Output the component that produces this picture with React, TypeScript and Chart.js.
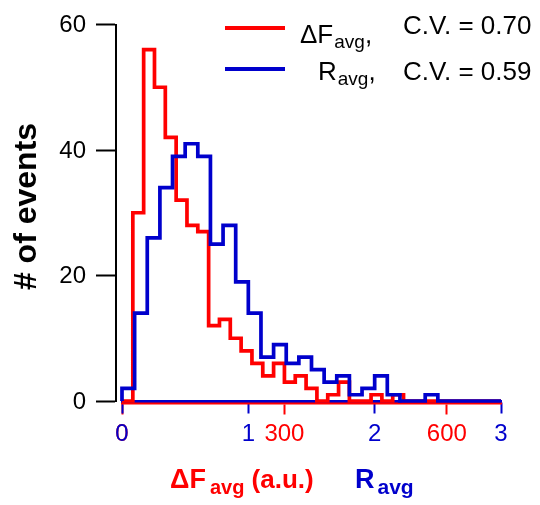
import React, { useEffect, useRef } from 'react';
import { Chart, registerables } from 'chart.js';

Chart.register(...registerables);

const RED = '#ff0000';
const BLUE = '#0000cc';
const FONT = "'Liberation Sans', Arial, Helvetica, sans-serif";

// ΔF_avg histogram: bin width 20 a.u., bins starting at 0
const RED_BIN_WIDTH = 20;
const redCounts = [
  0, 30, 56, 50, 42, 32, 28, 27, 12, 13, 10, 8, 6, 4, 6, 3, 4, 2, 0, 1, 3, 0, 0, 1, 0, 1,
  0, 0, 0, 0, 0, 0, 0, 0, 0,
];

// R_avg histogram: bin width 0.1, bins starting at 0
const BLUE_BIN_WIDTH = 0.1;
const blueCounts = [
  2, 14, 26, 34, 39, 41, 39, 25, 28, 19, 14, 7, 9, 6, 7, 5, 3, 4, 1, 2, 4, 1, 0, 0, 1,
  0, 0, 0, 0, 0,
];

const yTicks = [0, 20, 40, 60];
const blueTicks = [0, 1, 2, 3];
const redTicks = [0, 300, 600];

const legendRows = [
  { main: 'ΔF', sub: 'avg', cv: 'C.V. = 0.70', color: RED },
  { main: 'R', sub: 'avg', cv: 'C.V. = 0.59', color: BLUE },
];

function steps(counts: number[], width: number) {
  const pts: { x: number; y: number }[] = [{ x: 0, y: 0 }];
  counts.forEach((c, i) => pts.push({ x: i * width, y: c }));
  pts.push({ x: counts.length * width, y: 0 });
  return pts;
}

type Run = { text: string; size: number; dy: number; dx?: number };

function drawRuns(ctx: CanvasRenderingContext2D, x: number, y: number, runs: Run[], bold: boolean, color: string) {
  ctx.fillStyle = color;
  ctx.textAlign = 'left';
  ctx.textBaseline = 'alphabetic';
  let cx = x;
  for (const r of runs) {
    cx += r.dx || 0;
    ctx.font = `${bold ? 'bold ' : ''}${r.size}px ${FONT}`;
    ctx.fillText(r.text, cx, y + r.dy);
    cx += ctx.measureText(r.text).width;
  }
  return cx;
}

const textPlugin = {
  id: 'textDecor',
  afterDraw(chart: any) {
    const ctx: CanvasRenderingContext2D = chart.ctx;
    ctx.save();

    // y tick labels, placed from the y scale
    const ys = chart.scales.y;
    ctx.font = `24px ${FONT}`;
    ctx.fillStyle = '#000';
    ctx.textAlign = 'right';
    ctx.textBaseline = 'middle';
    yTicks.forEach((v) => {
      ctx.fillText(String(v), 86, ys.getPixelForValue(v) + 1);
    });

    // legend
    const rowY = [28, 69];
    const textX = [300, 318];
    const textBase = [43, 80];
    const cvBase = [34, 80];
    legendRows.forEach((row, i) => {
      ctx.strokeStyle = row.color;
      ctx.lineWidth = 4;
      ctx.beginPath();
      ctx.moveTo(225, rowY[i]);
      ctx.lineTo(285, rowY[i]);
      ctx.stroke();
      drawRuns(
        ctx,
        textX[i],
        textBase[i],
        [
          { text: row.main, size: 26, dy: 0 },
          { text: row.sub, size: 19, dy: 5, dx: 1 },
          { text: ',', size: 26, dy: 0 },
        ],
        false,
        '#000'
      );
      ctx.font = `26px ${FONT}`;
      ctx.fillStyle = '#000';
      ctx.textAlign = 'left';
      ctx.textBaseline = 'alphabetic';
      ctx.fillText(row.cv, 403, cvBase[i]);
    });

    // x axis titles
    drawRuns(
      ctx,
      170,
      488,
      [
        { text: 'ΔF', size: 27, dy: 0 },
        { text: 'avg', size: 20, dy: 6, dx: 4 },
        { text: ' (a.u.)', size: 26, dy: 0 },
      ],
      true,
      RED
    );
    drawRuns(
      ctx,
      355,
      488,
      [
        { text: 'R', size: 27, dy: 0 },
        { text: 'avg', size: 21, dy: 6, dx: 3 },
      ],
      true,
      BLUE
    );

    // y axis title
    ctx.save();
    ctx.translate(36, 206.5);
    ctx.rotate(-Math.PI / 2);
    ctx.font = `bold 32px ${FONT}`;
    ctx.fillStyle = '#000';
    ctx.textAlign = 'center';
    ctx.textBaseline = 'alphabetic';
    ctx.fillText('# of events', 0, 0);
    ctx.restore();

    ctx.restore();
  },
};

export default function App() {
  const ref = useRef<HTMLCanvasElement>(null);
  useEffect(() => {
    const chart = new Chart(ref.current as HTMLCanvasElement, {
      type: 'line',
      data: {
        datasets: [
          {
            label: 'R_avg',
            data: steps(blueCounts, BLUE_BIN_WIDTH),
            xAxisID: 'x',
            yAxisID: 'y',
            borderColor: BLUE,
            borderWidth: 3.7,
            pointRadius: 0,
            stepped: 'before',
            fill: false,
            clip: false,
            order: 0,
          } as any,
          {
            label: 'ΔF_avg',
            data: steps(redCounts, RED_BIN_WIDTH),
            xAxisID: 'xr',
            yAxisID: 'y',
            borderColor: RED,
            borderWidth: 3.7,
            pointRadius: 0,
            stepped: 'before',
            fill: false,
            clip: false,
            order: 1,
          } as any,
        ],
      },
      options: {
        responsive: false,
        animation: false,
        devicePixelRatio: 1,
        layout: { padding: { left: 122, right: 39, top: 24.5, bottom: 104 } },
        plugins: { legend: { display: false }, tooltip: { enabled: false }, title: { display: false } },
        scales: {
          xr: {
            type: 'linear',
            axis: 'x',
            min: 0,
            max: 700,
            position: { y: -0.35 },
            afterBuildTicks: (s: any) => {
              s.ticks = redTicks.map((v) => ({ value: v }));
            },
            ticks: {
              color: RED,
              font: { family: FONT, size: 24 },
              padding: 7,
              autoSkip: false,
              maxRotation: 0,
            },
            grid: { drawOnChartArea: false, drawTicks: true, tickLength: 10, tickWidth: 2, tickColor: RED },
            border: { display: true, color: RED, width: 2.5 },
          },
          x: {
            type: 'linear',
            min: 0,
            max: 3,
            position: { y: 0 },
            afterBuildTicks: (s: any) => {
              s.ticks = blueTicks.map((v) => ({ value: v }));
            },
            ticks: {
              color: BLUE,
              font: { family: FONT, size: 24 },
              padding: 8,
              autoSkip: false,
              maxRotation: 0,
            },
            grid: { drawOnChartArea: false, drawTicks: true, tickLength: 11, tickWidth: 2, tickColor: BLUE },
            border: { display: true, color: BLUE, width: 2.5 },
          },
          y: {
            type: 'linear',
            min: 0,
            max: 60,
            position: { x: -0.0475 },
            afterBuildTicks: (s: any) => {
              s.ticks = yTicks.map((v) => ({ value: v }));
            },
            ticks: { display: false },
            grid: { drawOnChartArea: false, drawTicks: true, tickLength: 19, tickWidth: 2, tickColor: '#000' },
            border: { display: true, color: '#000', width: 2 },
          },
        } as any,
      },
      plugins: [textPlugin],
    });
    return () => chart.destroy();
  }, []);
  return (
    <div style={{ position: 'fixed', left: 0, top: 0, width: 540, height: 505, background: '#fff' }}>
      <canvas ref={ref} width={540} height={505} style={{ display: 'block', width: 540, height: 505 }} />
    </div>
  );
}
